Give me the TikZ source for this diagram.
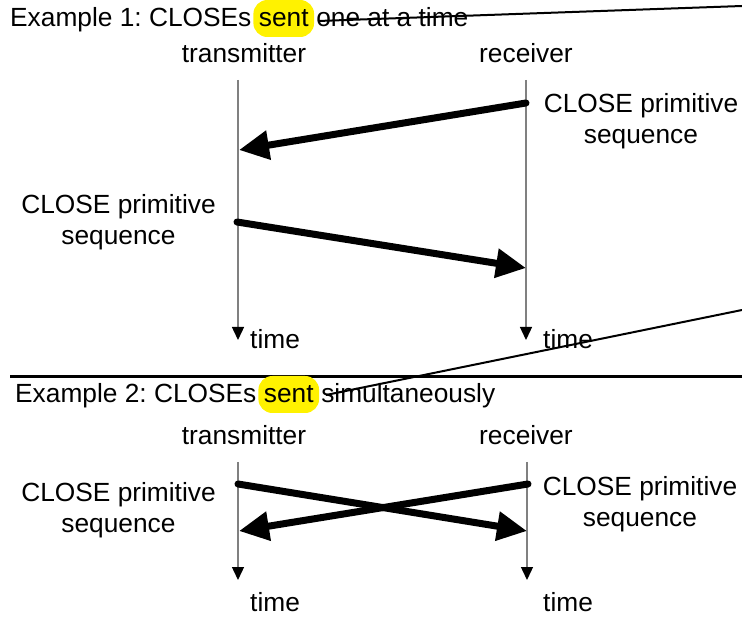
\documentclass[tikz,border=0pt]{standalone}
\usepackage{fontspec}
\setmainfont{Liberation Sans}
\usetikzlibrary{arrows.meta,calc}
\frenchspacing
\begin{document}
\begin{tikzpicture}[x=1pt,y=-1pt,
  txt/.style={font=\fontsize{26.3}{31}\selectfont, inner sep=0pt},
  lbl/.style={txt, align=center, anchor=base},
  hl/.style={txt, fill=yellow, rounded corners=14pt, inner xsep=5.5pt, inner ysep=8pt, text height=19pt, text depth=2pt, anchor=text},
  life/.style={draw=gray, line width=1.4pt, -{Triangle[length=13pt,width=12pt,color=black]}},
  msg/.style={line width=7pt, line cap=round, -{Triangle[length=30pt,width=28pt]}},
  strike/.style={line width=2pt},
  sep/.style={line width=3pt}
]
\useasboundingbox (0,0) rectangle (742,617);

% ---------- Example 1 ----------
\node[txt, anchor=base west] (t1a) at (10,27) {Example 1: CLOSEs};
\node[hl] (t1s) at ($(t1a.base east)+(7.3,0)$) {sent};
\node[txt, anchor=base west] (t1b) at ($(t1s.base east)+(1.8,0)$) {one at a time};

\node[txt, anchor=base] (tx1) at (244,63) {transmitter};
\node[txt, anchor=base] (rx1) at (526,63) {receiver};
\node[lbl] (c1r) at (641,144) {CLOSE primitive\\sequence};
\node[lbl] (c1l) at (118.5,245) {CLOSE primitive\\sequence};
\node[txt, anchor=base west] (time1l) at (250,349) {time};
\node[txt, anchor=base west] (time1r) at (543,349) {time};

\coordinate (l1t) at (238,80);  \coordinate (l1b) at (238,340);
\coordinate (r1t) at (526,80);  \coordinate (r1b) at (526,340);
\draw[life] (l1t) -- (l1b);
\draw[life] (r1t) -- (r1b);

\coordinate (m1s) at (526,103); \coordinate (m1e) at (239,150);
\coordinate (m2s) at (237,222); \coordinate (m2e) at (526,268);
\draw[msg] (m1s) -- (m1e);
\draw[msg] (m2s) -- (m2e);

% ---------- separator ----------
\coordinate (sepL) at (10,377); \coordinate (sepR) at (742,377);
\draw[sep] (sepL) -- (sepR);

% ---------- Example 2 ----------
\node[txt, anchor=base west] (t2a) at (15,403) {Example 2: CLOSEs};
\node[hl] (t2s) at ($(t2a.base east)+(7.3,0)$) {sent};
\node[txt, anchor=base west] (t2b) at ($(t2s.base east)+(1.8,0)$) {simultaneously};

\node[txt, anchor=base] (tx2) at (244,445) {transmitter};
\node[txt, anchor=base] (rx2) at (526,445) {receiver};
\node[lbl] (c2l) at (118.5,532) {CLOSE primitive\\sequence};
\node[lbl] (c2r) at (640,526) {CLOSE primitive\\sequence};
\node[txt, anchor=base west] (time2l) at (250,611) {time};
\node[txt, anchor=base west] (time2r) at (543,611) {time};

\coordinate (l2t) at (238,462);  \coordinate (l2b) at (238,580);
\coordinate (r2t) at (527,462);  \coordinate (r2b) at (527,580);
\draw[life] (l2t) -- (l2b);
\draw[life] (r2t) -- (r2b);

\coordinate (m3s) at (238,484); \coordinate (m3e) at (527,531);
\coordinate (m4s) at (528,484); \coordinate (m4e) at (239,531);
\draw[msg] (m3s) -- (m3e);
\draw[msg] (m4s) -- (m4e);

% ---------- strike-through lines ----------
\coordinate (s1a) at (318,21); \coordinate (s1b) at (742,6);
\coordinate (s2a) at (326,395); \coordinate (s2b) at (742,310);
\draw[strike] (s1a) -- (s1b);
\draw[strike] (s2a) -- (s2b);
\end{tikzpicture}
\end{document}
